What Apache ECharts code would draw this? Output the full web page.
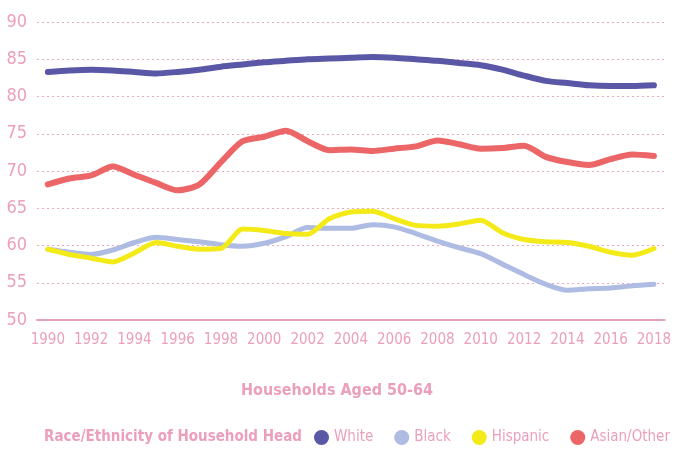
<!DOCTYPE html>
<html>
<head>
<meta charset="utf-8">
<script src="https://cdn.jsdelivr.net/npm/echarts@6/dist/echarts.min.js"></script>
<style>
  html, body { margin: 0; padding: 0; background: #fff; }
  #chart { width: 674px; height: 450px; }
</style>
</head>
<body>
<div id="chart"></div>
<script>
// values (homeownership %, households aged 50-64)
const years = ['1990','1991','1992','1993','1994','1995','1996','1997','1998','1999',
  '2000','2001','2002','2003','2004','2005','2006','2007','2008','2009',
  '2010','2011','2012','2013','2014','2015','2016','2017','2018']

const white = [83.3, 83.5, 83.6, 83.5, 83.3, 83.1, 83.3, 83.6, 84.0, 84.3,
  84.6, 84.8, 85.0, 85.1, 85.2, 85.3, 85.2, 85.0, 84.8, 84.5,
  84.2, 83.6, 82.8, 82.1, 81.8, 81.5, 81.4, 81.4, 81.5]

const black = [59.5, 59.1, 58.8, 59.4, 60.4, 61.1, 60.8, 60.5, 60.1, 59.9,
  60.3, 61.2, 62.4, 62.3, 62.3, 62.8, 62.5, 61.6, 60.6, 59.7,
  58.9, 57.5, 56.1, 54.8, 54.0, 54.2, 54.3, 54.6, 54.8]

const hispanic = [59.5, 58.8, 58.3, 57.8, 59.0, 60.4, 59.9, 59.5, 59.6, 62.2,
  62.0, 61.6, 61.5, 63.6, 64.5, 64.6, 63.6, 62.7, 62.6, 62.9,
  63.4, 61.7, 60.8, 60.5, 60.4, 59.9, 59.1, 58.7, 59.6]

const asian = [68.2, 69.0, 69.4, 70.6, 69.5, 68.4, 67.4, 68.2, 71.2, 74.0,
  74.6, 75.4, 74.0, 72.8, 72.9, 72.7, 73.0, 73.3, 74.1, 73.6,
  73.0, 73.1, 73.4, 71.9, 71.2, 70.8, 71.6, 72.2, 72.0]

const pink = '#eb9fbb'
const narrow = '"DejaVu Sans Condensed", "Liberation Sans Narrow", sans-serif'

function mkLine(name, data, color, width) {
  return {
    name: name,
    type: 'line',
    data: data,
    smooth: 0.25,
    symbol: 'none',
    lineStyle: { color: color, width: width, cap: 'round', join: 'round' },
    itemStyle: { color: color }
  }
}

const chart = echarts.init(document.getElementById('chart'))
chart.setOption({
  backgroundColor: '#fff',
  animation: false,
  grid: { left: 37, right: 4, top: 22, bottom: 130 },
  title: {
    text: 'Households Aged 50-64',
    left: 'center',
    top: 378,
    textStyle: { color: pink, fontSize: 16, fontWeight: 'bold', fontFamily: narrow }
  },
  graphic: [{
    type: 'text',
    left: 44,
    top: 430,
    style: { text: 'Race/Ethnicity of Household Head', fill: pink, font: 'bold 15px ' + narrow }
  }],
  legend: {
    left: 314,
    top: 430,
    width: 360,
    padding: 0,
    icon: 'circle',
    itemWidth: 15,
    itemHeight: 15,
    itemGap: 21,
    textStyle: { color: pink, fontSize: 15, fontFamily: narrow },
    data: ['White', 'Black', 'Hispanic', 'Asian/Other']
  },
  xAxis: {
    type: 'category',
    data: years,
    boundaryGap: true,
    axisLine: { show: true, lineStyle: { color: '#e7a3b9', width: 2 } },
    axisTick: { show: false },
    axisLabel: { interval: 1, color: pink, fontSize: 15, fontFamily: narrow, margin: 13 },
    splitLine: { show: false }
  },
  yAxis: {
    type: 'value',
    min: 50,
    max: 90,
    interval: 5,
    axisLine: { show: false },
    axisTick: { show: false },
    axisLabel: { color: pink, fontSize: 18, fontFamily: narrow, margin: 10 },
    splitLine: { show: true, lineStyle: { color: '#eaa9bf', width: 1, type: [2, 3] } }
  },
  series: [
    mkLine('White', white, '#5a58a6', 6),
    mkLine('Black', black, '#aebbe3', 5),
    mkLine('Hispanic', hispanic, '#f3ea18', 5),
    mkLine('Asian/Other', asian, '#ec6668', 6)
  ]
})
</script>
</body>
</html>
